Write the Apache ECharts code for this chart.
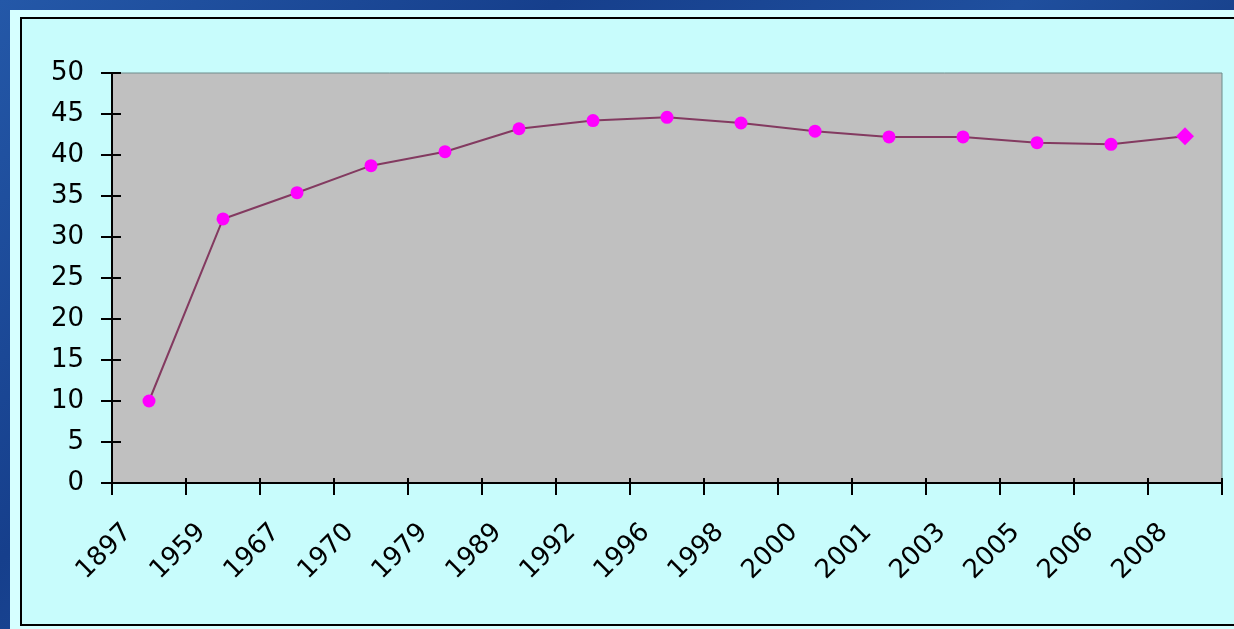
<!DOCTYPE html>
<html>
<head>
<meta charset="utf-8">
<script src="https://cdn.jsdelivr.net/npm/echarts@6/dist/echarts.min.js"></script>
<style>
html,body{margin:0;padding:0;width:1234px;height:629px;overflow:hidden;
background:linear-gradient(135deg,#2458a8 0%,#163f8c 30%,#1f4f9e 55%,#12357c 80%,#1c4894 100%);}
#chart{width:1234px;height:629px;}
</style>
</head>
<body>
<div id="chart"></div>
<script>
const categories = ['1897','1959','1967','1970','1979','1989','1992','1996','1998','2000','2001','2003','2005','2006','2008'];
const values = [10, 32.2, 35.4, 38.7, 40.4, 43.2, 44.2, 44.6, 43.9, 42.9, 42.2, 42.2, 41.5, 41.3, 42.3];
const yMin = 0, yMax = 50, yStep = 5;

const chart = echarts.init(document.getElementById('chart'), null, {renderer:'canvas'});
const FONT = 'DejaVu Sans';
const seriesData = values.map((v, i) => i === values.length - 1
  ? {value: v, symbol: 'diamond', symbolSize: 18}
  : v);

chart.setOption({
  backgroundColor: 'transparent',
  animation: false,
  graphic: [
    {type:'rect', z:-10, shape:{x:10, y:10, width:1240, height:630}, style:{fill:'#d6ffff'}},
    {type:'rect', z:-9, shape:{x:21, y:18, width:1230, height:607}, style:{fill:'#c8fcfc', stroke:'#000', lineWidth:2}}
  ],
  grid: {left:112, top:73, width:1110, height:410, show:true, backgroundColor:'#c0c0c0', borderColor:'#6f8c8c', borderWidth:1},
  xAxis: [
    {type:'category', data:categories, boundaryGap:true,
     axisLine:{show:true, lineStyle:{color:'#000', width:2}},
     axisTick:{show:true, inside:false, length:12, lineStyle:{color:'#000', width:2}},
     axisLabel:{rotate:45, margin:24, padding:[0,30,0,0], fontFamily:FONT, fontSize:26, color:'#000', interval:0},
     splitLine:{show:false}},
    {type:'category', data:categories, boundaryGap:true, position:'bottom', offset:0,
     axisLine:{show:false}, axisTick:{show:true, inside:true, length:5, lineStyle:{color:'#000', width:2}},
     axisLabel:{show:false}, splitLine:{show:false}}
  ],
  yAxis: [
    {type:'value', min:yMin, max:yMax, interval:yStep,
     axisLine:{show:true, lineStyle:{color:'#000', width:2}},
     axisTick:{show:true, inside:false, length:11, lineStyle:{color:'#000', width:2}},
     axisLabel:{margin:28, padding:[0,0,5,0], fontFamily:FONT, fontSize:26, color:'#000'},
     splitLine:{show:false}},
    {type:'value', min:yMin, max:yMax, interval:yStep, position:'left', offset:0,
     axisLine:{show:false}, axisTick:{show:true, inside:true, length:9, lineStyle:{color:'#000', width:2}},
     axisLabel:{show:false}, splitLine:{show:false}}
  ],
  series: [{
    type:'line', data:seriesData, xAxisIndex:0, yAxisIndex:0,
    symbol:'circle', symbolSize:13,
    itemStyle:{color:'#ff00ff'},
    lineStyle:{color:'#833a60', width:2}
  }]
});
</script>
</body>
</html>
